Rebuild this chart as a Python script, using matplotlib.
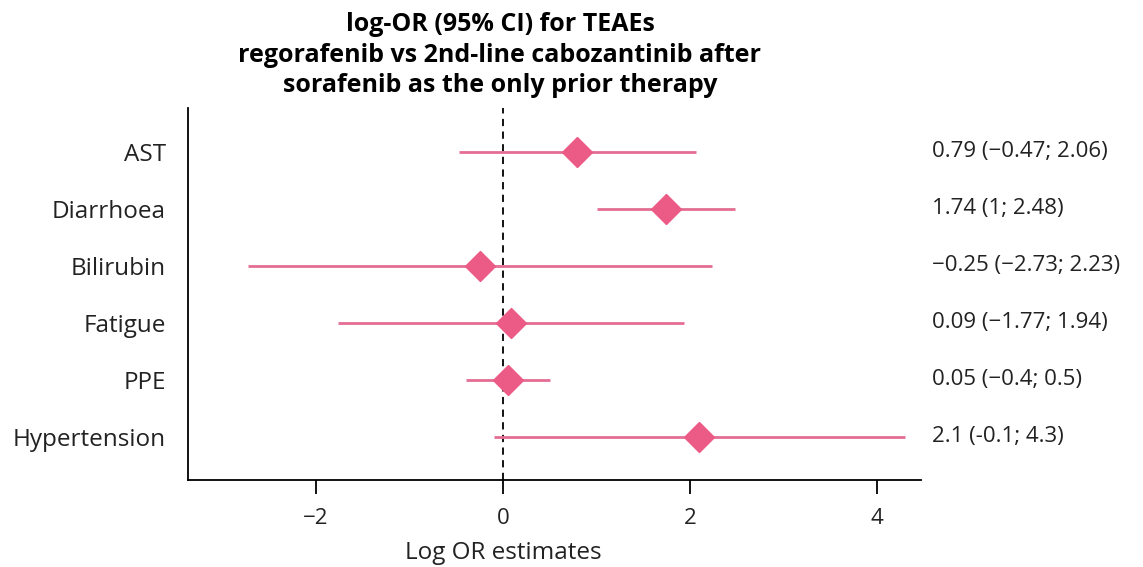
import matplotlib.pyplot as plt
import matplotlib.transforms as mtransforms

plt.rcParams['font.family'] = ['Open Sans', 'DejaVu Sans']

# data
events = ['AST', 'Diarrhoea', 'Bilirubin', 'Fatigue', 'PPE', 'Hypertension']
log_or = [0.79, 1.74, -0.25, 0.09, 0.05, 2.1]
ci_low = [-0.47, 1.0, -2.73, -1.77, -0.4, -0.1]
ci_high = [2.06, 2.48, 2.23, 1.94, 0.5, 4.3]
ci_text = ['0.79 (\u22120.47; 2.06)', '1.74 (1; 2.48)', '\u22120.25 (\u22122.73; 2.23)',
           '0.09 (\u22121.77; 1.94)', '0.05 (\u22120.4; 0.5)', '2.1 (-0.1; 4.3)']

pink_line = '#e46e93'
pink_mark = '#ec5a86'
txt_col = '#222222'

fig = plt.figure(figsize=(11.43, 5.67), dpi=100)
ax = fig.add_axes([188 / 1143, 1 - 480 / 567, (921 - 188) / 1143, (480 - 108) / 567])

ypos = list(range(len(events), 0, -1))

ax.axvline(0, color='black', ls='--', lw=1.3, dashes=(4, 3), zorder=1)
ax.hlines(ypos, ci_low, ci_high, color=pink_line, lw=2, zorder=2)
ax.plot(log_or, ypos, 'D', color=pink_mark, markersize=15, zorder=3)

ax.set_xlim(-3.37, 4.47)
ax.set_ylim(0.245, 6.77)
ax.set_xticks([-2, 0, 2, 4])
ax.set_xticklabels(['\u22122', '0', '2', '4'])
ax.set_yticks(ypos)
ax.set_yticklabels(events)
ax.tick_params(axis='y', length=0, pad=16, labelsize=17.5, labelcolor=txt_col)
ax.tick_params(axis='x', length=10, width=1.3, pad=10, labelsize=16, labelcolor=txt_col)
ax.spines['top'].set_visible(False)
ax.spines['right'].set_visible(False)
ax.spines['left'].set_linewidth(1.3)
ax.spines['bottom'].set_linewidth(1.3)
ax.set_xlabel('Log OR estimates', fontsize=17.5, color=txt_col)
ax.xaxis.set_label_coords((503 - 188) / 733, -0.165)

trans = mtransforms.blended_transform_factory(fig.transFigure, ax.transData)
for y, txt in zip(ypos, ci_text):
    ax.text(932 / 1143, y, txt, transform=trans, fontsize=16, va='center',
            ha='left', color=txt_col)

fig.text(500 / 1143, 1 - 55 / 567,
         'log-OR (95% CI) for TEAEs\nregorafenib vs 2nd-line cabozantinib after\nsorafenib as the only prior therapy',
         ha='center', va='center', fontsize=18, fontweight='bold', linespacing=1.3)

fig.savefig('out.png', dpi=100)
